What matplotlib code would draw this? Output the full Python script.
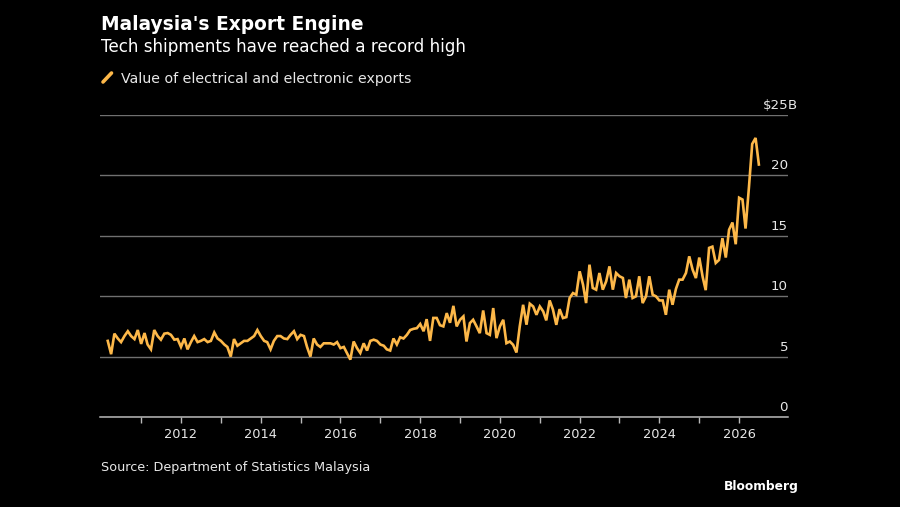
import matplotlib
matplotlib.use("Agg")
import matplotlib.pyplot as plt
import pandas as pd
from matplotlib.lines import Line2D
from matplotlib.transforms import blended_transform_factory, offset_copy

# ---------------- data ----------------
start_month = "2010-03-01"
exports_bn = [
    6.3, 5.2, 6.9, 6.5, 6.2, 6.7, 7.1, 6.7, 6.45, 7.2,                      # 2010 Mar-Dec
    6.05, 6.95, 6.0, 5.6, 7.2, 6.7, 6.4, 6.9, 6.95, 6.8, 6.4, 6.45,          # 2011
    5.8, 6.5, 5.6, 6.2, 6.7, 6.2, 6.3, 6.45, 6.2, 6.3, 7.0, 6.5,             # 2012
    6.3, 6.0, 5.8, 5.0, 6.45, 5.9, 6.1, 6.3, 6.3, 6.5, 6.7, 7.2,             # 2013
    6.7, 6.3, 6.2, 5.6, 6.3, 6.7, 6.7, 6.5, 6.45, 6.8, 7.1, 6.45,            # 2014
    6.8, 6.7, 5.8, 5.0, 6.5, 6.0, 5.8, 6.1, 6.1, 6.1, 6.0, 6.2,              # 2015
    5.7, 5.8, 5.3, 4.75, 6.25, 5.7, 5.3, 6.1, 5.5, 6.3, 6.4, 6.3,            # 2016
    6.0, 5.9, 5.6, 5.5, 6.5, 6.0, 6.6, 6.5, 6.8, 7.2, 7.3, 7.35,             # 2017
    7.7, 7.1, 8.1, 6.3, 8.2, 8.2, 7.6, 7.5, 8.6, 7.8, 9.2, 7.5,              # 2018
    8.05, 8.33, 6.25, 7.77, 8.05, 7.5, 6.94, 8.82, 6.94, 6.8, 9.02, 6.53,    # 2019
    7.5, 8.05, 6.11, 6.25, 5.98, 5.34, 7.5, 9.29, 7.64, 9.38, 9.15, 8.46,    # 2020
    9.15, 8.74, 8.0, 9.65, 8.9, 7.63, 8.93, 8.19, 8.27, 9.85, 10.26, 10.12,  # 2021
    12.06, 10.95, 9.43, 12.61, 10.68, 10.54, 11.92, 10.54, 11.23, 12.47, 10.54, 11.92,  # 2022
    11.65, 11.51, 9.85, 11.37, 9.85, 9.99, 11.65, 9.43, 9.99, 11.65, 10.12, 9.99,       # 2023
    9.65, 9.65, 8.46, 10.54, 9.29, 10.6, 11.37, 11.37, 11.92, 13.3, 12.2, 11.5,         # 2024
    13.2, 11.6, 10.5, 14.0, 14.1, 12.75, 13.0, 14.8, 13.2, 15.5, 16.1, 14.3,           # 2025
    18.15, 18.0, 15.6, 19.0, 22.6, 23.1, 20.9,                                          # 2026
]
y_ticks = [0, 5, 10, 15, 20, 25]
y_tick_labels = ["0", "5", "10", "15", "20", "$25"]
y_unit = "B"
tick_years = list(range(2011, 2027))
labeled_years = list(range(2012, 2027, 2))

title = "Malaysia's Export Engine"
subtitle = "Tech shipments have reached a record high"
legend_label = "Value of electrical and electronic exports"
source = "Source: Department of Statistics Malaysia"
brand = "Bloomberg"

dates = pd.date_range(start_month, periods=len(exports_bn), freq="MS")

# ---------------- style ----------------
W, H = 900, 507
BG = "black"
ORANGE = "#FDB849"
GRID = "#707070"
ZERO = "#b8b8b8"
TXT = "#ffffff"
SUB = "#e8e8e8"
FONT = ["DejaVu Sans"]
plt.rcParams["font.family"] = FONT

fig = plt.figure(figsize=(W / 100, H / 100), dpi=100, facecolor=BG)
ax = fig.add_axes([100 / W, (H - 417) / H, 688 / W, (417 - 115) / H])
ax.set_facecolor(BG)

ax.plot(dates, exports_bn, color=ORANGE, lw=1.9, solid_joinstyle="miter", zorder=3)

ax.set_xlim(pd.Timestamp("2009-12-20"), pd.Timestamp("2027-03-25"))
ax.set_ylim(0, 25)

# grid
ax.set_yticks(y_ticks)
ax.yaxis.grid(True, color=GRID, lw=1)
ax.tick_params(axis="y", length=0, labelleft=False)
for s in ["top", "right", "left"]:
    ax.spines[s].set_visible(False)
ax.spines["bottom"].set_color(ZERO)
ax.spines["bottom"].set_linewidth(1.1)
ax.spines["bottom"].set_zorder(4)
ax.set_axisbelow(True)

# x ticks
ax.set_xticks([pd.Timestamp(f"{y}-01-01") for y in tick_years])
ax.set_xticklabels([str(y) if y in labeled_years else "" for y in tick_years])
ax.tick_params(axis="x", length=4, width=1, color=ZERO, labelcolor=SUB,
               labelsize=9.3, pad=4)

# y labels above grid lines, right aligned
trans = blended_transform_factory(ax.transAxes, ax.transData)
trans_up = offset_copy(trans, fig=fig, x=0, y=6, units="dots")
for v, lab in zip(y_ticks, y_tick_labels):
    ax.text(1.0, v, lab, transform=trans_up, ha="right", va="baseline",
            color=SUB, fontsize=9.6)
ax.text(1.0, y_ticks[-1], y_unit, transform=trans_up, ha="left", va="baseline",
        color=SUB, fontsize=9.6)

# header texts
def fy(py):
    return 1 - py / H

renderer = fig.canvas.get_renderer()

def fit(t, target_px):
    w = t.get_window_extent(renderer=renderer).width
    t.set_fontsize(t.get_fontsize() * target_px / w)
    return t

fit(fig.text(101 / W, fy(30.5), title, color=TXT, fontsize=13, fontweight="bold",
             ha="left", va="baseline"), 261)
fit(fig.text(101 / W, fy(52.5), subtitle, color=TXT, fontsize=12.5,
             ha="left", va="baseline"), 369)
fig.add_artist(Line2D([103 / W, 111.5 / W], [fy(82), fy(73)], transform=fig.transFigure,
                      color=ORANGE, lw=2.6, solid_capstyle="round"))
fit(fig.text(121 / W, fy(82.5), legend_label, color=SUB, fontsize=10,
             ha="left", va="baseline"), 288)
fit(fig.text(101 / W, fy(470.5), source, color=SUB, fontsize=9.6, ha="left",
             va="baseline"), 270)
fit(fig.text(799 / W, fy(490), brand, color=TXT, fontsize=10, fontweight="bold",
             ha="right", va="baseline"), 75)

fig.savefig("out.png", dpi=100, facecolor=BG)
